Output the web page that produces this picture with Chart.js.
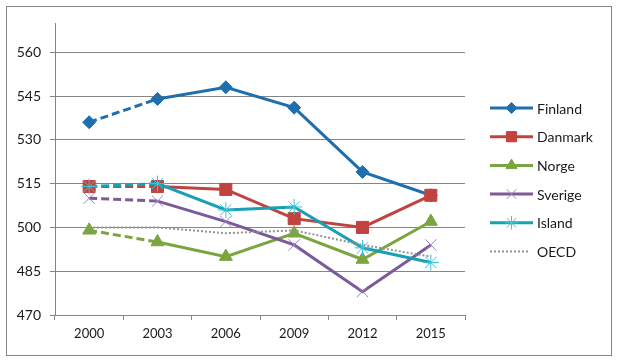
<!DOCTYPE html>
<html>
<head>
<meta charset="utf-8">
<script src="https://cdn.jsdelivr.net/npm/chart.js"></script>
<style>
    html, body { margin: 0; padding: 0; background: #fff; }
    #wrap { position: relative; width: 619px; height: 363px; }
    #wrap canvas { position: absolute; left: 0; top: 0; }
    #frame { position: absolute; left: 6px; top: 6px; width: 604px; height: 348px; border: 1px solid #868686; pointer-events: none; }
</style>
</head>
<body>
<div id="wrap">
    <canvas id="pisaChart" width="619" height="363"></canvas>
    <div id="frame"></div>
</div>
<script>
// data
const years = ['2000', '2003', '2006', '2009', '2012', '2015'];
const finland = [536, 544, 548, 541, 519, 511];
const danmark = [514, 514, 513, 503, 500, 511];
const norge = [499, 495, 490, 498, 489, 502];
const sverige = [510, 509, 502, 494, 478, 494];
const island = [514, 515, 506, 507, 493, 488];
const oecd = [500, 500, 498, 499, 494, 490];
const yTicks = [470, 485, 500, 515, 530, 545, 560];

const gridColor = '#868686';
const textColor = '#1a1a1a';

// first segment (2000-2003) is dashed for the countries
const dashFirst = ctx => ctx.p0DataIndex === 0 ? [8, 4] : undefined;

function countrySeries(label, data, color, markColor, style, radius, markBorder) {
    return {
        label: label,
        data: data,
        borderColor: color,
        backgroundColor: color,
        borderWidth: 3,
        pointStyle: style,
        pointRadius: radius,
        pointBackgroundColor: markColor,
        pointBorderColor: markColor,
        pointBorderWidth: markBorder,
        tension: 0,
        segment: { borderDash: dashFirst }
    };
}

const datasets = [
    countrySeries('Finland', finland, '#1f6fae', '#1f6fae', 'rectRot', 6.5, 1),
    countrySeries('Danmark', danmark, '#c0433f', '#c0433f', 'rect', 8.5, 1),
    countrySeries('Norge', norge, '#7ba540', '#7ba540', 'triangle', 7.5, 1),
    countrySeries('Sverige', sverige, '#7b5a9a', '#9c84c0', 'crossRot', 8, 1),
    countrySeries('Island', island, '#17a0b6', '#3ec3d8', 'star', 8, 1),
    {
        label: 'OECD',
        data: oecd,
        borderColor: '#939393',
        backgroundColor: '#939393',
        borderWidth: 2,
        borderDash: [2, 2],
        pointRadius: 0,
        tension: 0
    }
];
// later series on top, like the original
datasets.forEach((ds, i) => { ds.order = datasets.length - i; });

// legend on the right: line sample with marker in the middle
const sideLegend = {
    id: 'sideLegend',
    afterDraw(chart) {
        const ctx = chart.ctx;
        chart.data.datasets.forEach((ds, i) => {
            const y = 108 + i * 28.7;
            ctx.save();
            ctx.strokeStyle = ds.borderColor;
            ctx.lineWidth = ds.borderWidth;
            ctx.setLineDash(ds.borderDash || []);
            ctx.beginPath();
            ctx.moveTo(490, y);
            ctx.lineTo(ds.pointRadius > 0 ? 533 : 528, y);
            ctx.stroke();
            ctx.setLineDash([]);
            if (ds.pointRadius > 0 && Chart.helpers && Chart.helpers.drawPoint) {
                ctx.fillStyle = ds.pointBackgroundColor;
                ctx.strokeStyle = ds.pointBorderColor;
                ctx.lineWidth = ds.pointBorderWidth;
                Chart.helpers.drawPoint(ctx, {
                    pointStyle: ds.pointStyle,
                    radius: ds.pointRadius * 0.85,
                    borderWidth: ds.pointBorderWidth,
                    rotation: 0
                }, 511.5, y);
            }
            ctx.fillStyle = textColor;
            ctx.font = '14px Lato';
            ctx.textBaseline = 'middle';
            ctx.textAlign = 'left';
            ctx.fillText(ds.label, 537, y + 1);
            ctx.restore();
        });
    }
};

new Chart(document.getElementById('pisaChart').getContext('2d'), {
    type: 'line',
    data: { labels: years, datasets: datasets },
    plugins: [sideLegend],
    options: {
        responsive: false,
        animation: false,
        events: [],
        layout: { padding: { left: 0, top: 23, right: 154, bottom: 0 } },
        plugins: {
            legend: { display: false },
            tooltip: { enabled: false }
        },
        scales: {
            x: {
                offset: true,
                grid: {
                    display: true,
                    offset: true,
                    drawOnChartArea: false,
                    drawTicks: true,
                    tickLength: 5,
                    color: gridColor
                },
                border: { display: true, color: gridColor, width: 1 },
                ticks: {
                    color: textColor,
                    font: { family: 'Lato', size: 13 },
                    padding: 6,
                    maxRotation: 0
                },
                afterFit: scale => { scale.height = 48; }
            },
            y: {
                min: 470,
                max: 570,
                afterBuildTicks: scale => {
                    scale.ticks = yTicks.map(v => ({ value: v }));
                },
                grid: {
                    color: gridColor,
                    lineWidth: 1,
                    drawTicks: true,
                    tickLength: 5
                },
                border: { display: true, color: gridColor, width: 1 },
                ticks: {
                    color: textColor,
                    font: { family: 'Lato', size: 14 },
                    padding: 9
                },
                afterFit: scale => { scale.width = 55; }
            }
        }
    }
});
</script>
</body>
</html>
